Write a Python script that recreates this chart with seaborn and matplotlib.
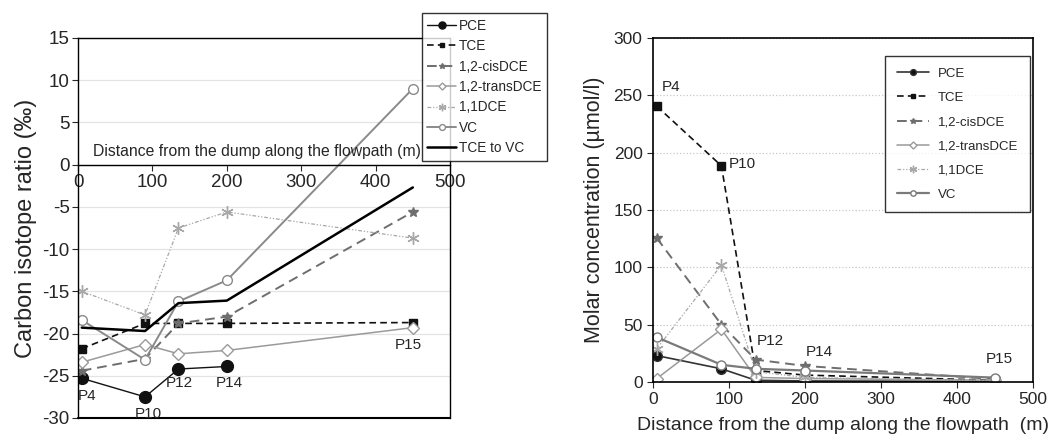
import matplotlib
matplotlib.use("Agg")
import matplotlib.pyplot as plt
import seaborn as sns

# distance from the dump along the flowpath (m)
distance = [5, 90, 135, 200, 450]
stations = ["P4", "P10", "P12", "P14", "P15"]

# carbon isotope ratios (permil)
iso_pce = [-25.3, -27.5, -24.2, -23.9]
iso_tce = [-21.8, -18.8, -18.8, -18.8, -18.7]
iso_cis = [-24.4, -23.0, -18.8, -18.0, -5.6]
iso_trans = [-23.4, -21.3, -22.4, -22.0, -19.3]
iso_11dce = [-15.0, -17.8, -7.5, -5.6, -8.7]
iso_vc = [-18.4, -23.1, -16.2, -13.7, 9.0]
iso_tce_to_vc = [-19.3, -19.7, -16.4, -16.1, -2.7]

# molar concentrations (umol/l)
conc_pce = [23, 11.5, 1.5, 0.9, 0.5]
conc_tce = [240.5, 188.5, 10, 6, 1.5]
conc_cis = [125.5, 50, 19.5, 14, 2.5]
conc_trans = [3, 46, 4, 3, 1.5]
conc_11dce = [29, 102, 9, 4, 1]
conc_vc = [39, 15, 11.5, 10, 3.8]

sns.set_style("white")
plt.rcParams["font.family"] = ["Liberation Sans", "DejaVu Sans"]

fig = plt.figure(figsize=(10.49, 4.36), dpi=100)
ax1 = fig.add_axes([0.0744, 0.0413, 0.3546, 0.8716])
ax2 = fig.add_axes([0.6225, 0.1239, 0.3623, 0.789])

# series styles: (label, color, linestyle, marker, size, face, lw)
styles = [
    ("PCE", "#111111", "-", "o", 8.5, "#111111", 1.0),
    ("TCE", "#111111", (0, (4, 2.5)), "s", 5.5, "#111111", 1.2),
    ("1,2-cisDCE", "#6e6e6e", (0, (5, 3)), "*", 7, "#6e6e6e", 1.4),
    ("1,2-transDCE", "#9a9a9a", "-", "D", 6, "white", 1.1),
    ("1,1DCE", "#a8a8a8", (0, (3, 1.5, 1, 1.5, 1, 1.5)), (6, 2, 0), 9, "#a8a8a8", 0.9),
    ("VC", "#8a8a8a", "-", "o", 7, "white", 1.4),
]

iso_series = [iso_pce, iso_tce, iso_cis, iso_trans, iso_11dce, iso_vc]
conc_series = [conc_pce, conc_tce, conc_cis, conc_trans, conc_11dce, conc_vc]

# ---- left panel: isotope ratios
for (label, color, ls, marker, ms, face, lw), vals in zip(styles, iso_series):
    sns.lineplot(x=distance[:len(vals)], y=vals, ax=ax1, color=color, linestyle=ls,
                 marker=marker, markersize=ms, markerfacecolor=face,
                 markeredgecolor=color, markeredgewidth=1.0, linewidth=lw,
                 label=label, legend=False)
sns.lineplot(x=distance, y=iso_tce_to_vc, ax=ax1, color="black", linewidth=1.8,
             label="TCE to VC", legend=False)

ax1.set_xlim(0, 500)
ax1.set_ylim(-30, 15)
ax1.set_yticks(range(-30, 16, 5))
ax1.set_yticklabels(["-30", "-25", "-20", "-15", "-10", "-5", "0", "5", "10", "15"])
ax1.set_xticks(range(0, 501, 100))
ax1.spines["bottom"].set_position(("data", 0))
for s in ax1.spines.values():
    s.set_color("black")
    s.set_linewidth(1.0)
ax1.axhline(-30, color="black", linewidth=1.5, clip_on=False)
ax1.grid(axis="y", color="#e4e4e4", linewidth=0.9)
ax1.set_axisbelow(True)
ax1.tick_params(axis="y", direction="out", length=4, labelsize=13.5, left=True, pad=2)
ax1.tick_params(axis="x", direction="out", length=4, labelsize=13.5, bottom=True, pad=3)
ax1.set_ylabel("Carbon isotope ratio (\u2030)", fontsize=17, labelpad=4)
ax1.text(20, 0.7, "Distance from the dump along the flowpath (m)", fontsize=11.3,
         ha="left", va="bottom")

iso_label_y = [-27.4, -29.5, -25.8, -25.8, -21.3]
iso_label_x = [12, 94, 136, 204, 444]
for name, lx, ly in zip(stations, iso_label_x, iso_label_y):
    ax1.text(lx, ly, name, fontsize=11, ha="center", va="center")

h1, l1 = ax1.get_legend_handles_labels()
leg1 = fig.legend(h1, l1, loc="upper left", bbox_to_anchor=(0.402, 0.970),
                  frameon=True, fancybox=False, edgecolor="black", fontsize=9.8,
                  handlelength=2.1, handletextpad=0.2, labelspacing=0.47,
                  borderpad=0.42, borderaxespad=0, markerscale=0.6)
leg1.get_frame().set_linewidth(1.0)

# ---- right panel: molar concentrations
rstyles = list(styles)
rstyles[0] = ("PCE", "#333333", "-", "o", 7, "#111111", 1.2)
rstyles[5] = ("VC", "#7a7a7a", "-", "o", 6.5, "white", 1.6)
for (label, color, ls, marker, ms, face, lw), vals in zip(rstyles, conc_series):
    sns.lineplot(x=distance, y=vals, ax=ax2, color=color, linestyle=ls,
                 marker=marker, markersize=ms, markerfacecolor=face,
                 markeredgecolor=color, markeredgewidth=1.0, linewidth=lw,
                 label=label, legend=False)

ax2.set_xlim(0, 500)
ax2.set_ylim(0, 300)
ax2.set_xticks(range(0, 501, 100))
ax2.set_yticks(range(0, 301, 50))
for s in ax2.spines.values():
    s.set_color("black")
    s.set_linewidth(1.2)
ax2.grid(axis="y", color="#c8c8c8", linestyle=":", linewidth=0.9)
ax2.set_axisbelow(True)
ax2.tick_params(axis="both", direction="out", length=4, labelsize=12.5,
                left=True, bottom=True)
ax2.set_xlabel("Distance from the dump along the flowpath  (m)", fontsize=14, labelpad=7)
ax2.set_ylabel("Molar concentration (\u00b5mol/l)", fontsize=15.5, labelpad=6)

conc_label_x = [12, 100, 137, 201, 456]
conc_label_y = [257, 190, 36, 26, 20]
for name, lx, ly in zip(stations, conc_label_x, conc_label_y):
    ax2.text(lx, ly, name, fontsize=11, ha="left" if name != "P15" else "center",
             va="center")

h2, l2 = ax2.get_legend_handles_labels()
leg2 = ax2.legend(h2, l2, loc="upper right", bbox_to_anchor=(0.992, 0.948),
                  frameon=True, fancybox=False, edgecolor="black", fontsize=9.5,
                  handlelength=2.4, handletextpad=0.7, labelspacing=0.9,
                  borderpad=0.9, borderaxespad=0, markerscale=0.6)
leg2.get_frame().set_linewidth(1.0)

fig.savefig("out.png", dpi=100)
